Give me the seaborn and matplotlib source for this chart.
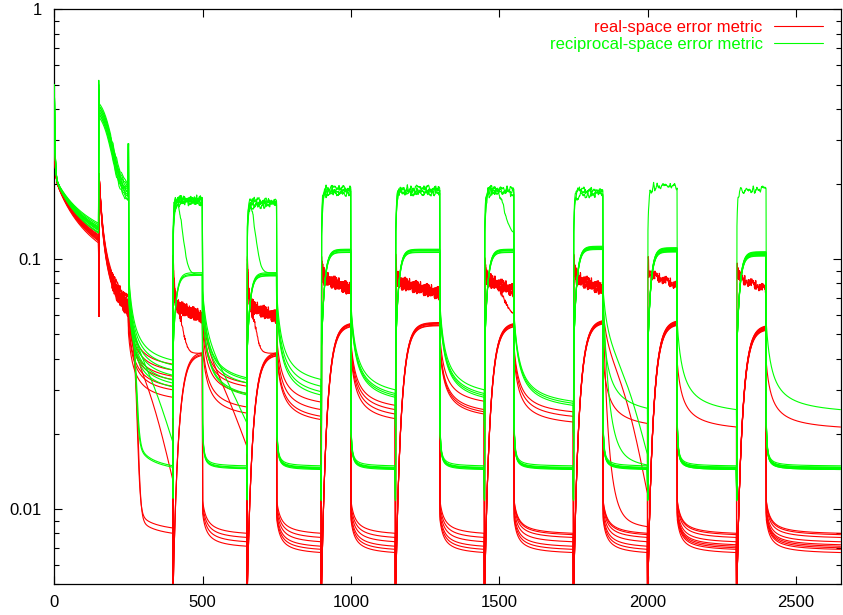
import numpy as np
import pandas as pd
import matplotlib
matplotlib.use("Agg")
import matplotlib.pyplot as plt
import seaborn as sns
from matplotlib.lines import Line2D
from matplotlib.ticker import LogLocator, NullFormatter

# ---------------- data ----------------
# iteration segments of the reconstruction schedule
seg_start = [0, 150, 250, 400, 500, 650, 750, 900, 1000, 1150, 1300, 1450, 1550, 1750, 1850, 2000, 2100, 2300, 2400]
seg_end = [150, 250, 400, 500, 650, 750, 900, 1000, 1150, 1300, 1450, 1550, 1750, 1850, 2000, 2100, 2300, 2400, 2650]
seg_phase = ["init", "kick"] + ["relax", "hio"] * 8 + ["relax"]

# state of every run in every segment: U unconverged, C converged,
# T slow transition, F fast transition
run_state = [
    "UUFCCCCCCCCCCCCCCCC",
    "UUFCCCCCCCCCCCCCCCC",
    "UUTCCCCCCCCCCCCCCCC",
    "UUUTCCCCCCCCCCCCCCC",
    "UUUUTCCCCCCCCCCCCCC",
    "UUUUUTCCCCCCCCCCCCC",
    "UUUUUUUUUUUTCCCCCCC",
    "UUUUUUUUUUUUUUTCCCC",
    "UUUUUUUUUUUUUUTCCCC",
    "UUUUUUUUUUUUUUUUUUU",
]

# first segment (0-150)
init_green_start = 0.50
init_red_start = 0.36
init_knee = 0.215
init_green_end = [0.139, 0.137, 0.135, 0.134, 0.133, 0.132, 0.131, 0.130, 0.128, 0.127]
init_red_end = [0.127, 0.125, 0.124, 0.123, 0.122, 0.121, 0.120, 0.119, 0.118, 0.116]

# second segment (150-250)
kick_green_peak = [0.52, 0.50, 0.48, 0.47, 0.46, 0.45, 0.45, 0.44, 0.43, 0.42]
kick_green_knee = [0.42, 0.41, 0.41, 0.40, 0.40, 0.39, 0.39, 0.38, 0.38, 0.37]
kick_green_end = [0.200, 0.196, 0.192, 0.189, 0.186, 0.183, 0.180, 0.177, 0.174, 0.170]
kick_red_dip = 0.059
kick_red_peak = 0.22
kick_red_end = [0.070, 0.068, 0.067, 0.066, 0.065, 0.064, 0.063, 0.062, 0.061, 0.060]
relax_green_spike = 0.29

# converged (floor) levels of every run
conv_green = [0.0147, 0.0149, 0.0145, 0.0146, 0.0144, 0.0146, 0.0145, 0.0147, 0.0144, 0.0146]
conv_red = [0.0080, 0.0077, 0.0074, 0.0071, 0.0069, 0.0067, 0.0079, 0.0072, 0.0070, 0.0068]

# plateau levels in the high (HIO) segments
hio_green_smooth = {3: 0.087, 5: 0.087, 7: 0.108, 9: 0.108, 11: 0.108, 13: 0.111, 15: 0.109, 17: 0.105}
hio_red_smooth = {3: 0.042, 5: 0.042, 7: 0.055, 9: 0.055, 11: 0.055, 13: 0.0565, 15: 0.056, 17: 0.0535}
hio_green_noisy = {3: 0.172, 5: 0.168, 7: 0.188, 9: 0.188, 11: 0.188, 13: 0.185, 15: 0.195, 17: 0.19}
hio_red_noisy = {3: 0.062, 5: 0.062, 7: 0.080, 9: 0.077, 11: 0.079, 13: 0.080, 15: 0.083, 17: 0.080}
run_spread = [1.015, 1.0, 0.99, 1.005, 0.985, 1.01, 0.995, 1.02, 0.98, 1.0]
# (segment, run): (centre, width, green target, red target)
hio_turn = {(3, 3): (35, 8, 0.087, 0.042), (5, 5): (30, 8, 0.088, 0.042), (11, 6): (70, 10, 0.125, 0.060)}

# end levels of non-converged runs in the relaxation segments
relax_end_green = {
    2: [0.0147, 0.0149, 0.0183, 0.0394, 0.0377, 0.0360, 0.0343, 0.0328, 0.0319, 0.0308],
    4: [None, None, None, None, 0.0220, 0.0335, 0.0330, 0.0320, 0.0290, 0.0286],
    6: [None, None, None, None, None, None, 0.0330, 0.0310, 0.0295, 0.0286],
    8: [None, None, None, None, None, None, 0.0300, 0.0290, 0.0285, 0.0280],
    10: [None, None, None, None, None, None, 0.0300, 0.0290, 0.0285, 0.0280],
    12: [None, None, None, None, None, None, None, 0.0270, 0.0265, 0.0260],
    14: [None, None, None, None, None, None, None, 0.0150, 0.0164, 0.0253],
    16: [None, None, None, None, None, None, None, None, None, 0.0250],
    18: [None, None, None, None, None, None, None, None, None, 0.0250],
}
relax_end_red = {
    2: [0.0084, 0.0080, 0.0130, 0.0380, 0.0360, 0.0340, 0.0330, 0.0310, 0.0300, 0.0280],
    4: [None, None, None, None, 0.0177, 0.0320, 0.0310, 0.0290, 0.0256, 0.0242],
    6: [None, None, None, None, None, None, 0.0268, 0.0250, 0.0235, 0.0228],
    8: [None, None, None, None, None, None, 0.0260, 0.0250, 0.0240, 0.0230],
    10: [None, None, None, None, None, None, 0.0270, 0.0250, 0.0245, 0.0240],
    12: [None, None, None, None, None, None, None, 0.0245, 0.0235, 0.0223],
    14: [None, None, None, None, None, None, None, 0.0085, 0.0114, 0.0220],
    16: [None, None, None, None, None, None, None, None, None, 0.0213],
    18: [None, None, None, None, None, None, None, None, None, 0.0213],
}
turn_knee_green, turn_mid_green = 0.075, 0.040
turn_knee_red, turn_mid_red = 0.062, 0.038
relax_turn_green = {(2, 0): ("logit", 25, 5), (2, 1): ("logit", 27, 5), (2, 2): ("logit", 150, 55),
                    (4, 4): ("logit", 150, 70), (14, 7): ("exp", 20, 0), (14, 8): ("logit", 150, 50)}
relax_turn_red = {(2, 0): ("logit", 30, 5), (2, 1): ("logit", 32, 5), (2, 2): ("logit", 150, 55),
                  (4, 4): ("logit", 150, 70), (14, 7): ("exp", 20, 0), (14, 8): ("logit", 150, 50)}

# fluctuation pattern of the noisy plateaus
jit = [0.3, -0.8, 0.6, -0.2, 0.9, -0.5, 0.1, -0.9, 0.4, 0.7,
       -0.6, 0.2, -0.3, 0.8, -0.7, 0.5, -0.1, -0.8, 0.6, 0.0,
       -0.4, 0.9, -0.6, 0.3, -0.9, 0.7, 0.2, -0.5, 0.8, -0.2,
       -0.7, 0.4, 0.1, -0.3, 0.6, -0.8, 0.5]

x_ticks = [0, 500, 1000, 1500, 2000, 2500]
y_ticks = [0.01, 0.1, 1]
y_tick_labels = ["0.01", "0.1", "1"]
labels = ["real-space error metric", "reciprocal-space error metric"]
colors = {"real": "#ff0000", "recip": "#00ff00"}

# ---------------- building the curves ----------------
lg = np.log10
jit_arr = np.array(jit)
n_runs = len(run_state)
n_iter = seg_end[-1] + 1


def hyp(tau, T, c):
    b = c / (T + c)
    return (c / (tau + c) - b) / (1 - b)


def logit(tau, T, t0, wd):
    f = lambda t: 1.0 / (1.0 + np.exp((t - t0) / wd))
    return (f(tau) - f(T)) / (f(0) - f(T))


def expo(tau, T, te):
    return (np.exp(-tau / te) - np.exp(-T / te)) / (1 - np.exp(-T / te))


def noise(tau, run, s, step, off):
    return jit_arr[(step * tau + off * run + 5 * s) % len(jit_arr)]


def slow_noise(tau, run, s, hold):
    k = tau // hold
    fr = (tau % hold) / hold
    n = len(jit_arr)
    i0 = (k * 3 + 11 * run + 5 * s) % n
    i1 = ((k + 1) * 3 + 11 * run + 5 * s) % n
    return jit_arr[i0] * (1 - fr) + jit_arr[i1] * fr


def build(run, green):
    L = np.zeros(n_iter)
    prev = 0.0
    for s, (a, b, ph) in enumerate(zip(seg_start, seg_end, seg_phase)):
        T = b - a
        last = s == len(seg_start) - 1
        tau = np.arange(0, T + (1 if last else 0))
        st = run_state[run][s]
        if ph == "init":
            Ls = lg(init_green_start if green else init_red_start)
            Le = lg(init_green_end[run] if green else init_red_end[run])
            Lk = lg(init_knee)
            base = Le + (Lk - Le) * hyp(tau, T, 150)
            seg = base + (Ls - Lk) * np.exp(-tau / 2.5)
        elif ph == "kick":
            t1 = np.maximum(tau - 1, 0)
            if green:
                Lk, Le = lg(kick_green_knee[run]), lg(kick_green_end[run])
                seg = Le + (Lk - Le) * logit(t1, T - 1, 45, 18)
                seg = seg + 0.008 * slow_noise(tau, run, s, 4) * (tau > 40)
                seg[0] = lg(kick_green_peak[run])
            else:
                Lk, Le = lg(kick_red_peak), lg(kick_red_end[run])
                seg = Le + (Lk - Le) * hyp(t1, T - 1, 25)
                seg = seg + 0.012 * noise(tau, run, s, 7, 13) * (tau > 40)
                seg[0] = lg(kick_red_dip)
        elif ph == "relax":
            ends = relax_end_green if green else relax_end_red
            e = ends[s][run] if s in ends else None
            if st == "C" or e is None:
                floor = conv_green[run] if green else conv_red[run]
                kf, c = (1.5, 3) if green else (1.35, 15)
                seg = lg(floor) + lg(kf) * hyp(tau, T, c)
            elif st == "U":
                kf = 2.2 if green else 1.8
                seg = lg(e) + lg(kf) * hyp(tau, T, 20)
            else:
                shape, p1, p2 = (relax_turn_green if green else relax_turn_red)[(s, run)]
                Lk = lg(turn_knee_green if green else turn_knee_red)
                Lm = lg(turn_mid_green if green else turn_mid_red)
                Le = lg(e)
                sh = logit(tau, T, p1, p2) if shape == "logit" else expo(tau, T, p1)
                seg = Le + (Lk - Lm) * hyp(tau, T, 20) + (Lm - Le) * sh
            if s == 2 and green:
                seg = np.concatenate([[lg(relax_green_spike)], seg[:-1]])
        else:  # hio
            t1 = np.maximum(tau - 1, 0)
            if green:
                Lp = lg(hio_green_smooth[s] * run_spread[run])
                Ln = lg(hio_green_noisy[s] * run_spread[run])
                smooth = Lp + (lg(0.045) - Lp) * np.exp(-t1 / 10)
                amp = 0.013 * (1 + 2.5 * np.exp(-tau / 10))
                noisy = (Ln + (lg(0.13) - Ln) * np.exp(-t1 / 3)
                         + amp * slow_noise(tau, run, s, 4)
                         + 0.004 * noise(tau, run, s, 7, 13))
                dip = prev + lg(0.75)
            else:
                Lp = lg(hio_red_smooth[s] * run_spread[run])
                Ln = lg(hio_red_noisy[s] * run_spread[run]) + lg(1.06) - lg(1.12) * tau / T
                smooth = Lp + (lg(0.005) - Lp) * np.exp(-t1 / 18)
                amp = 0.02 * (1 + 1.5 * np.exp(-tau / 10))
                noisy = Ln + (lg(0.095) - Ln) * np.exp(-t1 / 4) + amp * noise(tau, run, s, 7, 13)
                dip = lg(0.003)
            if st == "C":
                seg = smooth
            elif st == "U":
                seg = noisy
            else:
                t0, wd, gt, rt = hio_turn[(s, run)]
                sig = 1.0 / (1.0 + np.exp(-(tau - t0) / wd))
                seg = (1 - sig) * noisy + sig * lg(gt if green else rt)
            seg = seg.copy()
            seg[0] = dip
        L[a:a + len(tau)] = seg
        prev = seg[-1]
    return 10 ** L


frames = []
it = np.arange(n_iter)
for run in range(n_runs):
    for metric, green in (("real", False), ("recip", True)):
        frames.append(pd.DataFrame({"iteration": it, "value": build(run, green),
                                    "metric": metric, "run": run}))
df = pd.concat(frames, ignore_index=True)

# ---------------- drawing ----------------
sns.set_theme(style="ticks")
plt.rcParams["font.family"] = ["Liberation Sans", "DejaVu Sans"]

fig = plt.figure(figsize=(8.43, 6.15), dpi=100)
ax = fig.add_axes([54.3 / 843, (615 - 584.3) / 615, (840.5 - 54.3) / 843, (584.3 - 9.3) / 615])

sns.lineplot(data=df, x="iteration", y="value", hue="metric", units="run", estimator=None,
             hue_order=["real", "recip"], palette=colors, linewidth=0.8, legend=False, ax=ax)

ax.set_yscale("log")
ax.set_xlim(0, seg_end[-1])
ax.set_ylim(0.005, 1)
ax.set_xticks(x_ticks)
ax.set_xticklabels([str(v) for v in x_ticks])
ax.set_yticks(y_ticks)
ax.set_yticklabels(y_tick_labels)
ax.yaxis.set_minor_locator(LogLocator(base=10, subs=np.arange(2, 10)))
ax.yaxis.set_minor_formatter(NullFormatter())
ax.set_xlabel("")
ax.set_ylabel("")
for sp in ax.spines.values():
    sp.set_visible(True)
    sp.set_color("black")
    sp.set_linewidth(0.9)
    sp.set_zorder(1)
ax.tick_params(which="both", direction="in", top=True, right=True, colors="black",
               labelsize=12, width=0.8)
ax.tick_params(which="major", length=6)
ax.tick_params(which="minor", length=3.5)
ax.tick_params(axis="x", pad=8)
ax.tick_params(axis="y", pad=9)

handles = [Line2D([], [], color=colors["real"], lw=0.8), Line2D([], [], color=colors["recip"], lw=0.8)]
ax.legend(handles, labels, loc="upper right", bbox_to_anchor=(1 - 17 / 786, 1 - 11 / 575),
          frameon=False, markerfirst=False, labelcolor="linecolor", handlelength=2.95,
          handletextpad=0.7, labelspacing=0.1, borderpad=0, borderaxespad=0, fontsize=12)

fig.savefig("out.png", dpi=100)
